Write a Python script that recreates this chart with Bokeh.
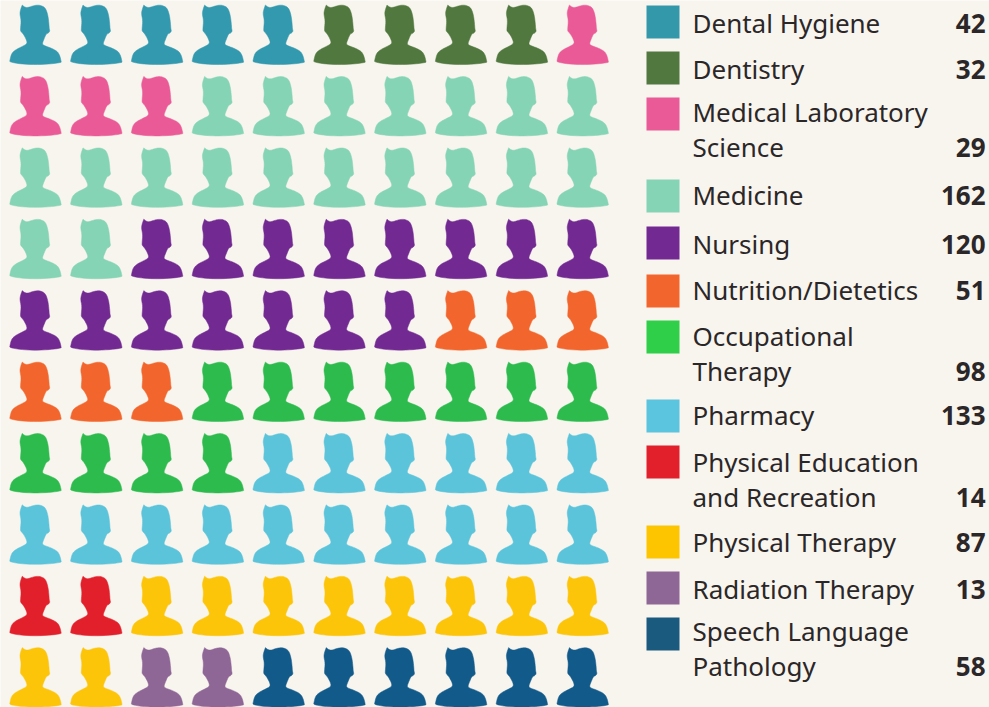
from bokeh.embed import file_html
from bokeh.resources import INLINE
from bokeh.plotting import figure
from bokeh.models import Range1d, ColumnDataSource
from bokeh.core.properties import value

# ---- data ----
categories = ["Dental Hygiene", "Dentistry", "Medical Laboratory Science", "Medicine", "Nursing",
              "Nutrition/Dietetics", "Occupational Therapy", "Pharmacy",
              "Physical Education and Recreation", "Physical Therapy", "Radiation Therapy",
              "Speech Language Pathology"]
counts = [42, 32, 29, 162, 120, 51, 98, 133, 14, 87, 13, 58]
icons_per_category = [5, 4, 4, 19, 15, 6, 11, 16, 2, 10, 2, 6]
label_lines = [["Dental Hygiene"], ["Dentistry"], ["Medical Laboratory", "Science"], ["Medicine"],
               ["Nursing"], ["Nutrition/Dietetics"], ["Occupational", "Therapy"], ["Pharmacy"],
               ["Physical Education", "and Recreation"], ["Physical Therapy"], ["Radiation Therapy"],
               ["Speech Language", "Pathology"]]

# ---- styles / layout ----
BG = "#F8F5EE"
icon_colors = ["#3399AE", "#50783F", "#EA5A97", "#85D4B5", "#722A92", "#F2662D",
               "#2DBB4E", "#5BC4DA", "#E2202C", "#FDC50A", "#8F6796", "#125A8A"]
swatch_colors = ["#3399AA", "#50783F", "#EA5A97", "#85D4B5", "#722A92", "#F2662D",
                 "#2FCF49", "#5BC4DF", "#E2202C", "#FDC500", "#8F6796", "#1A5A7E"]
swatch_tops = [5, 51, 97, 179, 226, 274, 320, 399, 445, 525, 571, 617]
text_first_y = [22.5, 68.5, 111.5, 194.5, 243.5, 289.5, 335.5, 414.5, 461.5, 541.5, 588.5, 630.5]
LINE_GAP = 35
COL_STEP, ROW_STEP = 60.8, 71.4
# person silhouette outline, relative to the first icon's origin (px)
outline = [(21.7, 4.5), (21.7, 4.5), (24, 6.5), (27, 7.2), (32, 5.5), (36, 4.6), (40, 4.8), (45, 7.3),
           (47.5, 15), (48.5, 24), (48.7, 28), (49.4, 30.7), (47.7, 32.7), (45.7, 33.3), (43.3, 39),
           (41.7, 43.3), (43.3, 45), (50, 47.3), (56.7, 50.7), (59.3, 55), (60.7, 61), (60.7, 62),
           (50, 63.5), (35, 64.2), (20, 63.5), (9.3, 61.5), (9.3, 60), (11, 53), (15, 49.3), (21.7, 46),
           (26.7, 43.3), (26, 39.3), (22.7, 33.3), (20, 30.7), (20, 28), (20.7, 20), (19.3, 13.3), (20, 9.3)]


def smooth(points, passes=2):
    for _ in range(passes):
        out = []
        for i, (x0, y0) in enumerate(points):
            x1, y1 = points[(i + 1) % len(points)]
            out.append((0.75 * x0 + 0.25 * x1, 0.75 * y0 + 0.25 * y1))
            out.append((0.25 * x0 + 0.75 * x1, 0.25 * y0 + 0.75 * y1))
        points = out
    return points


shape = smooth(outline)
head_x = [pt[0] for pt in shape]
head_y = [pt[1] for pt in shape]

p = figure(width=989, height=707, output_backend="svg", toolbar_location=None,
           x_range=Range1d(0, 989), y_range=Range1d(707, 0), min_border=0,
           background_fill_color=BG, border_fill_color=BG, outline_line_color=None,
           margin=(0, 0, 0, 0))
p.axis.visible = False
p.grid.visible = False

# ---- pictogram ----
xs, ys, cols = [], [], []
k = 0
for n, c in zip(icons_per_category, icon_colors):
    for _ in range(n):
        r, q = divmod(k, 10)
        xs.append([x + q * COL_STEP for x in head_x])
        ys.append([y + r * ROW_STEP for y in head_y])
        cols.append(c)
        k += 1
p.patches(xs="xs", ys="ys", fill_color="cols", line_color="cols", line_width=0.5,
          source=ColumnDataSource(dict(xs=xs, ys=ys, cols=cols)))

# ---- legend ----
p.quad(left=[646] * 12, right=[679] * 12, top=swatch_tops, bottom=[t + 33 for t in swatch_tops],
       fill_color=swatch_colors, line_color=None)
tx, ty, tt, nx, ny, nt = [], [], [], [], [], []
for lines, y0, cnt in zip(label_lines, text_first_y, counts):
    for i, s in enumerate(lines):
        tx.append(692); ty.append(y0 + i * LINE_GAP); tt.append(s)
    nx.append(985); ny.append(y0 + (len(lines) - 1) * LINE_GAP); nt.append(str(cnt))
p.text(x=tx, y=ty, text=tt, text_font=value("Noto Sans"), text_font_size="26px",
       text_color="#2B2728", text_baseline="middle", text_align="left")
p.text(x=nx, y=ny, text=nt, text_font=value("Noto Sans"), text_font_size="26px",
       text_font_style="bold", text_color="#2B2728", text_baseline="middle", text_align="right")

open("out.html", "w").write(file_html(p, INLINE))
